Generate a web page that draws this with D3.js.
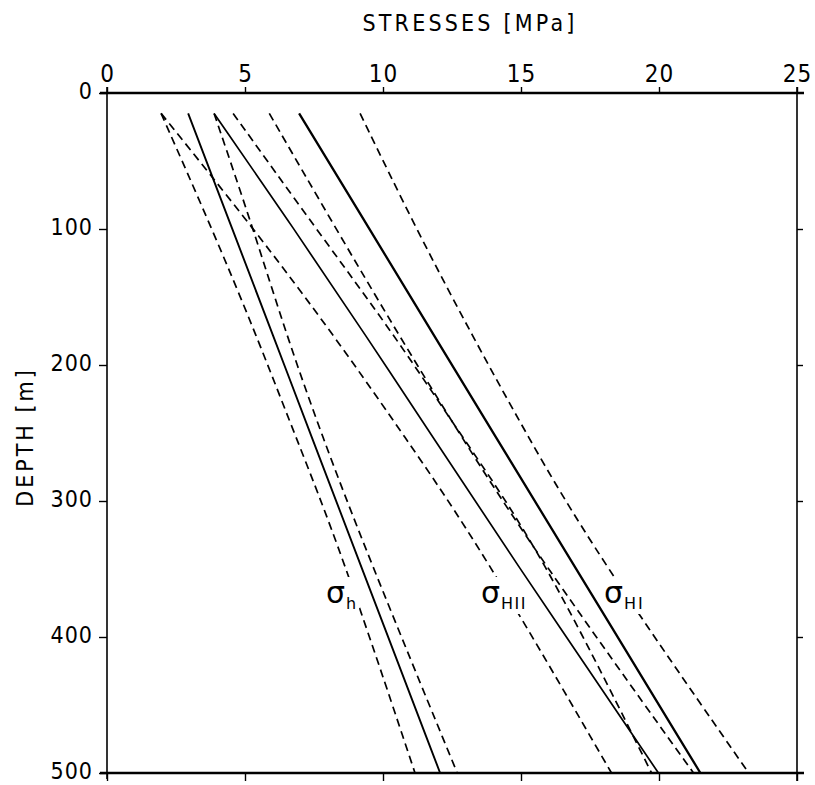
<!DOCTYPE html>
<html>
<head>
<meta charset="utf-8">
<script src="https://cdn.jsdelivr.net/npm/d3@7"></script>
<style>
  html, body { margin: 0; padding: 0; background: #fff; }
  svg { display: block; }
  text { font-family: "DejaVu Sans Condensed", "DejaVu Sans", sans-serif; font-stretch: condensed; fill: #000; }
</style>
</head>
<body>
<svg id="chart" width="815" height="785"></svg>
<script>
// Depths (m) at which the stress profiles are sampled
const depths = [15, 100, 179, 251, 336, 500];

// Minimum horizontal stress: fit and confidence bounds (MPa)
const sigmaH      = [2.94, 4.54, 6.03, 7.38, 8.98, 12.07];
const sigmaHLow   = [1.96, 3.81, 5.43, 6.80, 8.47, 11.16];
const sigmaHHigh  = [3.88, 5.30, 6.52, 7.77, 9.37, 12.69];

// Maximum horizontal stress, set II
const sigmaHII     = [3.88, 6.78, 9.40, 11.74, 14.50, 19.98];
const sigmaHIILow  = [1.96, 5.33, 8.25, 10.73, 13.60, 18.28];
const sigmaHIIHigh = [5.88, 8.30, 10.60, 12.78, 15.46, 21.25];

// Maximum horizontal stress, set I
const sigmaHI     = [6.96, 9.51, 11.87, 14.03, 16.58, 21.50];
const sigmaHILow  = [4.57, 7.58, 10.45, 12.80, 15.71, 19.73];
const sigmaHIHigh = [9.17, 11.20, 13.25, 15.20, 17.63, 23.25];

// Axis ticks
const stressTicks = [0, 5, 10, 15, 20, 25];
const depthTicks = [0, 100, 200, 300, 400, 500];

const svg = d3.select("#chart");
const plotLeft = 107, plotRight = 797, plotTop = 93, plotBottom = 773;

const x = d3.scaleLinear().domain([0, 25]).range([plotLeft, plotRight]);
const y = d3.scaleLinear().domain([0, 500]).range([plotTop, plotBottom]);

// Frame
const frame = svg.append("g").attr("stroke", "#000").attr("fill", "none");
frame.append("line").attr("x1", plotLeft - 7).attr("x2", plotRight + 7).attr("y1", plotTop).attr("y2", plotTop).attr("stroke-width", 2.6);
frame.append("line").attr("x1", plotLeft - 7).attr("x2", plotRight + 7).attr("y1", plotBottom).attr("y2", plotBottom).attr("stroke-width", 2.6);
frame.append("line").attr("x1", plotLeft).attr("x2", plotLeft).attr("y1", plotTop - 6).attr("y2", plotBottom + 6).attr("stroke-width", 1.6);
frame.append("line").attr("x1", plotRight).attr("x2", plotRight).attr("y1", plotTop - 6).attr("y2", plotBottom + 8).attr("stroke-width", 1.6);

// Top stress axis
const topAxis = svg.append("g")
  .attr("transform", `translate(0,${plotTop})`)
  .call(d3.axisTop(x).tickValues(stressTicks).tickSize(6).tickPadding(5).tickFormat(d3.format("d")));
topAxis.select(".domain").remove();
topAxis.selectAll("line").attr("stroke-width", 1.4);
topAxis.selectAll("text").attr("font-size", 24).attr("letter-spacing", 1).attr("font-family", null);

// Bottom ticks (no labels)
const bottomAxis = svg.append("g")
  .attr("transform", `translate(0,${plotBottom})`)
  .call(d3.axisBottom(x).tickValues(stressTicks).tickSize(8).tickFormat(""));
bottomAxis.select(".domain").remove();
bottomAxis.selectAll("line").attr("stroke-width", 1.4);

// Left depth axis
const leftAxis = svg.append("g")
  .attr("transform", `translate(${plotLeft},0)`)
  .call(d3.axisLeft(y).tickValues(depthTicks).tickSize(8).tickPadding(6).tickFormat(d3.format("d")));
leftAxis.select(".domain").remove();
leftAxis.selectAll("line").attr("stroke-width", 1.4);
leftAxis.selectAll("text")
  .attr("font-size", 23)
  .attr("letter-spacing", 1)
  .attr("dy", "0.25em")
  .attr("font-family", null);

// Right ticks (no labels)
const rightAxis = svg.append("g")
  .attr("transform", `translate(${plotRight},0)`)
  .call(d3.axisRight(y).tickValues(depthTicks.slice(1, -1)).tickSize(6).tickFormat(""));
rightAxis.select(".domain").remove();
rightAxis.selectAll("line").attr("stroke-width", 1.4);

// Axis titles
svg.append("text")
  .attr("x", 470).attr("y", 31)
  .attr("text-anchor", "middle")
  .attr("font-size", 23)
  .attr("letter-spacing", 3.2)
  .text("STRESSES [MPa]");

svg.append("text")
  .attr("transform", "translate(33,437) rotate(-90)")
  .attr("text-anchor", "middle")
  .attr("font-size", 23)
  .attr("letter-spacing", 3)
  .text("DEPTH [m]");

// Profiles
const line = d3.line()
  .x(d => x(d[0]))
  .y(d => y(d[1]))
  .curve(d3.curveBasis);

const profiles = [
  { values: sigmaHLow,    dashed: true,  width: 1.7 },
  { values: sigmaHHigh,   dashed: true,  width: 1.7 },
  { values: sigmaHIILow,  dashed: true,  width: 1.7 },
  { values: sigmaHIIHigh, dashed: true,  width: 1.7 },
  { values: sigmaHILow,   dashed: true,  width: 1.7 },
  { values: sigmaHIHigh,  dashed: true,  width: 1.7 },
  { values: sigmaH,       dashed: false, width: 1.9 },
  { values: sigmaHII,     dashed: false, width: 1.7 },
  { values: sigmaHI,      dashed: false, width: 2.3 }
];

// Curve labels, each on a white patch that interrupts the bound line beneath it
const labels = [
  { sub: "h",   sx: 326, spacing: 0 },
  { sub: "HII", sx: 481, spacing: 1.5 },
  { sub: "HI",  sx: 604, spacing: 2 }
];
const labelY = 603;

const dashedLayer = svg.append("g");
const maskLayer = svg.append("g");
const solidLayer = svg.append("g");
const labelLayer = svg.append("g");

dashedLayer.selectAll("path")
  .data(profiles.filter(p => p.dashed))
  .join("path")
  .attr("d", p => line(p.values.map((v, i) => [v, depths[i]])))
  .attr("fill", "none")
  .attr("stroke", "#000")
  .attr("stroke-width", p => p.width)
  .attr("stroke-dasharray", "8,5");

// Fitted profiles sit above the label patches so they stay unbroken
solidLayer.selectAll("path")
  .data(profiles.filter(p => !p.dashed))
  .join("path")
  .attr("d", p => line(p.values.map((v, i) => [v, depths[i]])))
  .attr("fill", "none")
  .attr("stroke", "#000")
  .attr("stroke-width", p => p.width);

labels.forEach(l => {
  const t = labelLayer.append("text")
    .attr("x", l.sx).attr("y", labelY)
    .style("font-family", "'DejaVu Sans', sans-serif")
    .style("font-stretch", "normal");
  t.append("tspan").attr("font-size", 30).text("σ");
  t.append("tspan")
    .attr("font-size", 16)
    .attr("dx", 1)
    .attr("dy", 6)
    .attr("letter-spacing", l.spacing)
    .text(l.sub);
  const b = t.node().getBBox();
  maskLayer.append("rect")
    .attr("fill", "#fff")
    .attr("x", b.x - 2).attr("y", b.y + 2)
    .attr("width", b.width + 5).attr("height", b.height - 1);
});
</script>
</body>
</html>
